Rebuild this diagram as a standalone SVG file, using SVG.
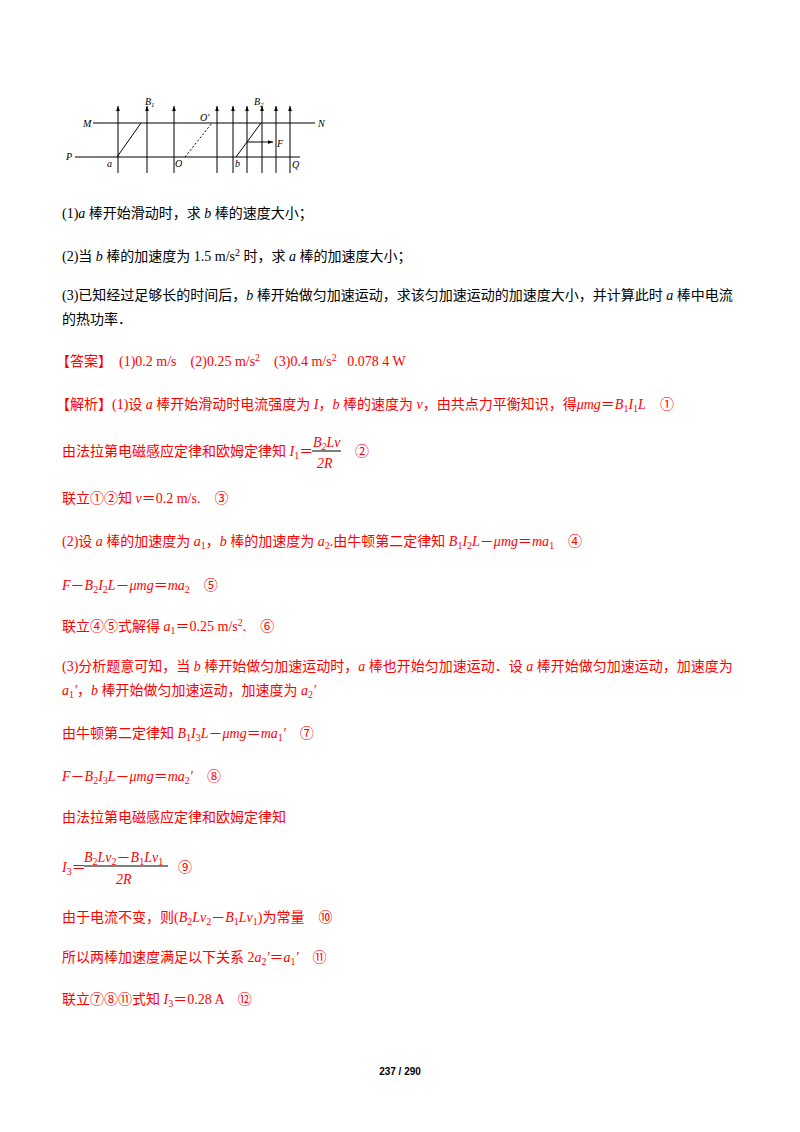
<svg xmlns="http://www.w3.org/2000/svg" width="800" height="1132" viewBox="0 0 800 1132">
<style>
text{font-family:"Liberation Serif","Noto Sans CJK SC",serif;font-size:14px;fill:#000}
.r{fill:#f00}
.i{font-style:italic}
.s{font-size:10px;baseline-shift:-3px}
.p{font-size:10px;baseline-shift:5px}
.fl{font-family:"Liberation Serif",serif;font-style:italic;font-size:10px}
line{stroke:#000;stroke-width:1}
</style>
<defs><marker id="ah" viewBox="0 0 8 6" refX="8" refY="3" markerWidth="5" markerHeight="4" orient="auto"><path d="M0,0L8,3L0,6z" fill="#000"/></marker></defs>
<rect width="800" height="1132" fill="#fff"/>
<g id="figure">
<line x1="93" y1="123" x2="315" y2="123"/>
<line x1="75" y1="157" x2="300" y2="157"/>
<g marker-end="url(#ah)">
<line x1="118" y1="173" x2="118" y2="106"/><line x1="147" y1="173" x2="147" y2="106"/><line x1="174" y1="173" x2="174" y2="106"/><line x1="217" y1="173" x2="217" y2="106"/><line x1="233" y1="173" x2="233" y2="106"/><line x1="247" y1="173" x2="247" y2="106"/><line x1="262" y1="173" x2="262" y2="106"/><line x1="276" y1="173" x2="276" y2="106"/><line x1="290" y1="173" x2="290" y2="106"/>
<line x1="247" y1="142" x2="273" y2="142"/>
</g>
<line x1="117" y1="157" x2="141" y2="123" stroke-width="2"/>
<line x1="236" y1="157" x2="261" y2="123" stroke-width="2"/>
<line x1="185" y1="157" x2="212" y2="123" stroke-dasharray="2,2"/>
<text class="fl" x="83" y="127">M</text><text class="fl" x="318" y="127">N</text>
<text class="fl" x="66" y="160">P</text><text class="fl" x="292" y="168">Q</text>
<text class="fl" x="107" y="167">a</text><text class="fl" x="175" y="167">O</text><text class="fl" x="235" y="167">b</text>
<text class="fl" x="200" y="121">O′</text><text class="fl" x="277" y="147">F</text>
<text class="fl" x="145" y="105">B<tspan font-size="7" baseline-shift="-2px">1</tspan></text>
<text class="fl" x="254" y="105">B<tspan font-size="7" baseline-shift="-2px">2</tspan></text>
</g>
<g id="questions">
<text x="62" y="218">(1)<tspan class="i">a</tspan> 棒开始滑动时，求 <tspan class="i">b</tspan> 棒的速度大小；</text>
<text x="62" y="261">(2)当 <tspan class="i">b</tspan> 棒的加速度为 1.5 m/s<tspan class="p">2</tspan> 时，求 <tspan class="i">a</tspan> 棒的加速度大小；</text>
<text x="62" y="300">(3)已知经过足够长的时间后，<tspan class="i">b</tspan> 棒开始做匀加速运动，求该匀加速运动的加速度大小，并计算此时 <tspan class="i">a</tspan> 棒中电流</text>
<text x="62" y="324">的热功率．</text>
</g>
<g id="answer">
<text class="r" x="56" y="366" xml:space="preserve">【答案】  (1)0.2 m/s    (2)0.25 m/s<tspan class="p">2</tspan>    (3)0.4 m/s<tspan class="p">2</tspan>   0.078 4 W</text>
<text class="r" x="56" y="409">【解析】(1)设 <tspan class="i">a</tspan> 棒开始滑动时电流强度为 <tspan class="i">I</tspan>，<tspan class="i">b</tspan> 棒的速度为 <tspan class="i">v</tspan>，由共点力平衡知识，得<tspan class="i">μmg</tspan>＝<tspan class="i">B</tspan><tspan class="s">1</tspan><tspan class="i">I</tspan><tspan class="s">1</tspan><tspan class="i">L</tspan>　①</text>
<text class="r" x="62" y="456">由法拉第电磁感应定律和欧姆定律知 <tspan class="i">I</tspan><tspan class="s">1</tspan>＝</text>
<text class="r i" x="313" y="447">B<tspan class="s">2</tspan>Lv</text>
<line x1="312" y1="451" x2="341" y2="451" stroke="#f00"/>
<text class="r i" x="317" y="468">2R</text>
<text class="r" x="355" y="456">②</text>
<text class="r" x="62" y="503">联立①②知 <tspan class="i">v</tspan>＝0.2 m/s.　③</text>
<text class="r" x="62" y="546">(2)设 <tspan class="i">a</tspan> 棒的加速度为 <tspan class="i">a</tspan><tspan class="s">1</tspan>，<tspan class="i">b</tspan> 棒的加速度为 <tspan class="i">a</tspan><tspan class="s">2</tspan>.由牛顿第二定律知 <tspan class="i">B</tspan><tspan class="s">1</tspan><tspan class="i">I</tspan><tspan class="s">2</tspan><tspan class="i">L</tspan>－<tspan class="i">μmg</tspan>＝<tspan class="i">ma</tspan><tspan class="s">1</tspan>　④</text>
<text class="r" x="62" y="590"><tspan class="i">F</tspan>－<tspan class="i">B</tspan><tspan class="s">2</tspan><tspan class="i">I</tspan><tspan class="s">2</tspan><tspan class="i">L</tspan>－<tspan class="i">μmg</tspan>＝<tspan class="i">ma</tspan><tspan class="s">2</tspan>　⑤</text>
<text class="r" x="62" y="631">联立④⑤式解得 <tspan class="i">a</tspan><tspan class="s">1</tspan>＝0.25 m/s<tspan class="p">2</tspan>.　⑥</text>
<text class="r" x="62" y="671">(3)分析题意可知，当 <tspan class="i">b</tspan> 棒开始做匀加速运动时，<tspan class="i">a</tspan> 棒也开始匀加速运动．设 <tspan class="i">a</tspan> 棒开始做匀加速运动，加速度为</text>
<text class="r" x="62" y="695"><tspan class="i">a</tspan><tspan class="s">1</tspan><tspan class="i">′</tspan>，<tspan class="i">b</tspan> 棒开始做匀加速运动，加速度为 <tspan class="i">a</tspan><tspan class="s">2</tspan><tspan class="i">′</tspan></text>
<text class="r" x="62" y="738">由牛顿第二定律知 <tspan class="i">B</tspan><tspan class="s">1</tspan><tspan class="i">I</tspan><tspan class="s">3</tspan><tspan class="i">L</tspan>－<tspan class="i">μmg</tspan>＝<tspan class="i">ma</tspan><tspan class="s">1</tspan><tspan class="i">′</tspan>　⑦</text>
<text class="r" x="62" y="781"><tspan class="i">F</tspan>－<tspan class="i">B</tspan><tspan class="s">2</tspan><tspan class="i">I</tspan><tspan class="s">3</tspan><tspan class="i">L</tspan>－<tspan class="i">μmg</tspan>＝<tspan class="i">ma</tspan><tspan class="s">2</tspan><tspan class="i">′</tspan>　⑧</text>
<text class="r" x="62" y="822">由法拉第电磁感应定律和欧姆定律知</text>
<text class="r" x="62" y="872"><tspan class="i">I</tspan><tspan class="s">3</tspan>＝</text>
<text class="r" x="84" y="862"><tspan class="i">B</tspan><tspan class="s">2</tspan><tspan class="i">Lv</tspan><tspan class="s">2</tspan>－<tspan class="i">B</tspan><tspan class="s">1</tspan><tspan class="i">Lv</tspan><tspan class="s">1</tspan></text>
<line x1="84" y1="866" x2="168" y2="866" stroke="#f00"/>
<text class="r i" x="116" y="884">2R</text>
<text class="r" x="178" y="872">⑨</text>
<text class="r" x="62" y="922">由于电流不变，则(<tspan class="i">B</tspan><tspan class="s">2</tspan><tspan class="i">Lv</tspan><tspan class="s">2</tspan>－<tspan class="i">B</tspan><tspan class="s">1</tspan><tspan class="i">Lv</tspan><tspan class="s">1</tspan>)为常量　⑩</text>
<text class="r" x="62" y="962">所以两棒加速度满足以下关系 2<tspan class="i">a</tspan><tspan class="s">2</tspan><tspan class="i">′</tspan>＝<tspan class="i">a</tspan><tspan class="s">1</tspan><tspan class="i">′</tspan>　⑪</text>
<text class="r" x="62" y="1004">联立⑦⑧⑪式知 <tspan class="i">I</tspan><tspan class="s">3</tspan>＝0.28 A　⑫</text>
</g>
<text x="400" y="1075" text-anchor="middle" style="font-family:'Liberation Sans',sans-serif;font-size:10px;font-weight:bold">237 / 290</text>
</svg>
